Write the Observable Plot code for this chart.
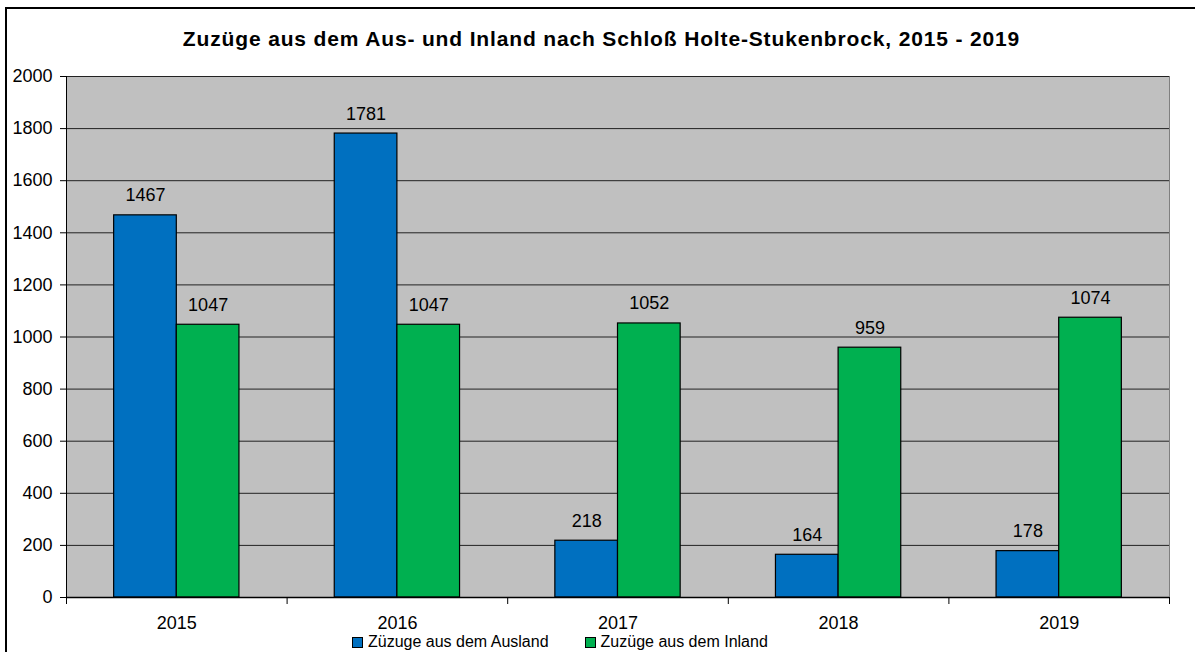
<!DOCTYPE html>
<html>
<head>
<meta charset="utf-8">
<script src="https://cdn.jsdelivr.net/npm/d3@7"></script>
<script src="https://cdn.jsdelivr.net/npm/@observablehq/plot@0.6"></script>
<style>
  html, body { margin: 0; padding: 0; background: #fff; }
  body { width: 1195px; height: 652px; position: relative; overflow: hidden; font-family: "Liberation Sans", Arial, sans-serif; }
  #frame { position: absolute; left: 5px; top: 7px; width: 1300px; height: 800px; border: 2px solid #000; box-sizing: border-box; pointer-events: none; }
  #title { position: absolute; left: 0; width: 1203px; top: 27px; text-align: center; font-weight: bold; font-size: 21px; letter-spacing: 0.85px; color: #000; white-space: nowrap; }
  #chart { position: absolute; left: 0; top: 0; }
  #legend { position: absolute; top: 633px; left: 352px; font-size: 16px; color: #000; display: flex; align-items: center; white-space: nowrap; }
  .sw { display: inline-block; width: 9px; height: 9px; border: 1px solid #000; margin-right: 5px; }
  .item { display: flex; align-items: center; margin-right: 36px; }
</style>
</head>
<body>
<div id="chart"></div>
<div id="title"></div>
<div id="legend"></div>
<div id="frame"></div>
<script>
const titleText = "Zuzüge aus dem Aus- und Inland nach Schloß Holte-Stukenbrock, 2015 - 2019";
const years = [2015, 2016, 2017, 2018, 2019];
const ausland = [1467, 1781, 218, 164, 178];
const inland = [1047, 1047, 1052, 959, 1074];
const seriesNames = ["Züzuge aus dem Ausland", "Zuzüge aus dem Inland"];
const seriesColors = ["#0070c0", "#00b050"];
const yTicks = [0, 200, 400, 600, 800, 1000, 1200, 1400, 1600, 1800, 2000];

const barW = 0.284; // share of a year band per bar
const rows = years.flatMap((yr, i) => [
  {year: yr, s: 0, series: seriesNames[0], value: ausland[i]},
  {year: yr, s: 1, series: seriesNames[1], value: inland[i]}
]);
const bounds = [years[0] - 0.5, ...years.map(y => y + 0.5)];

const chart = Plot.plot({
  width: 1195,
  height: 652,
  marginLeft: 66,
  marginRight: 26,
  marginTop: 76,
  marginBottom: 55,
  style: {fontFamily: "'Liberation Sans', Arial, sans-serif", fontSize: "18px", color: "#000", background: "transparent"},
  x: {type: "linear", domain: [years[0] - 0.5, years[years.length - 1] + 0.5], axis: null},
  y: {domain: [0, 2000], axis: null},
  color: {domain: seriesNames, range: seriesColors},
  marks: [
    Plot.frame({fill: "#c0c0c0", stroke: "#808080"}),
    Plot.gridY(yTicks, {stroke: "#222", strokeOpacity: 1}),
    Plot.rectY(rows, {
      x1: d => d.year - barW + d.s * barW,
      x2: d => d.year + d.s * barW,
      y1: 0, y2: "value",
      fill: "series", stroke: "#000", strokeWidth: 1.2
    }),
    Plot.text(rows, {
      x: d => d.year + (d.s - 0.5) * barW,
      y: "value",
      text: d => String(d.value),
      lineAnchor: "bottom",
      dy: -14,
      fill: "#000",
      fontSize: 18
    }),
    Plot.ruleX([bounds[0]], {stroke: "#000"}),
    Plot.ruleY([0], {stroke: "#000", strokeWidth: 1.5}),
    Plot.axisY(yTicks, {anchor: "left", label: null, tickSize: 6, tickPadding: 8, tickFormat: d => String(d), fontSize: 18}),
    Plot.axisX(bounds, {anchor: "bottom", label: null, tickSize: 7, tickFormat: () => ""}),
    Plot.axisX(years, {anchor: "bottom", label: null, tickSize: 0, tickPadding: 19, tickFormat: d => String(d), fontSize: 18})
  ]
});
document.getElementById("chart").appendChild(chart);
document.getElementById("title").textContent = titleText;

const legend = document.getElementById("legend");
seriesNames.forEach((name, i) => {
  const item = document.createElement("span");
  item.className = "item";
  const sw = document.createElement("span");
  sw.className = "sw";
  sw.style.background = seriesColors[i];
  item.appendChild(sw);
  item.appendChild(document.createTextNode(name));
  legend.appendChild(item);
});
</script>
</body>
</html>
